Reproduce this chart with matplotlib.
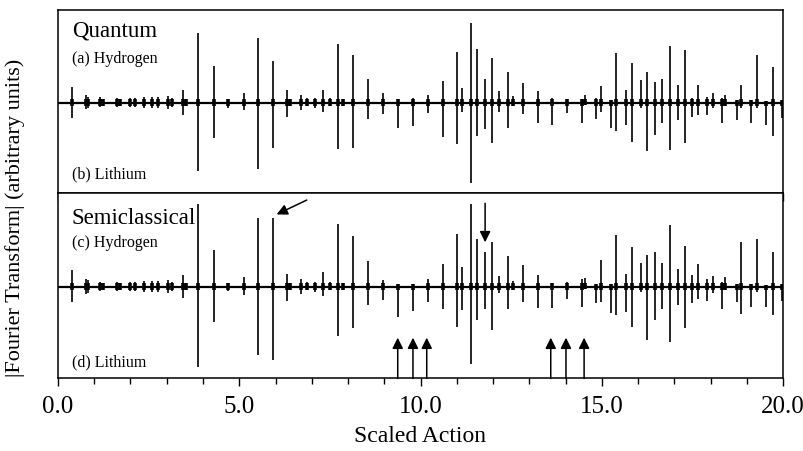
import numpy as np
import matplotlib
matplotlib.use('Agg')
import matplotlib.pyplot as plt
from matplotlib.ticker import MultipleLocator

plt.rcParams['font.family'] = ['Liberation Serif', 'DejaVu Serif']

# Posiciones de los picos (accion escalada)
actions = [0.38, 0.78, 0.83, 1.17, 1.23, 1.63, 1.71, 1.99, 2.12, 2.38,
           2.58, 2.77, 3.04, 3.14, 3.44, 3.52, 3.87, 4.30, 4.70, 5.13,
           5.53, 5.92, 6.31, 6.40, 6.70, 6.88, 7.09, 7.30, 7.50, 7.72,
           7.87, 8.15, 8.56, 8.97, 9.37, 9.80, 10.20, 10.61, 11.00, 11.14,
           11.39, 11.55, 11.78, 11.98, 12.17, 12.41, 12.56, 12.82, 13.23, 13.62,
           14.03, 14.45, 14.54, 14.84, 14.97, 15.25, 15.39, 15.67, 15.83, 16.08,
           16.24, 16.47, 16.67, 16.88, 17.10, 17.28, 17.48, 17.66, 17.90, 18.06,
           18.31, 18.40, 18.72, 18.83, 19.11, 19.27, 19.52, 19.72, 19.96]

# Quantum: (a) hidrogeno hacia arriba, (b) litio hacia abajo
quantum_h = [0.17, 0.08, 0.06, 0.06, 0.04, 0.05, 0.04, 0.05, 0.05, 0.06,
             0.06, 0.06, 0.07, 0.05, 0.14, 0.04, 0.75, 0.40, 0.04, 0.11,
             0.70, 0.45, 0.14, 0.04, 0.08, 0.05, 0.05, 0.14, 0.05, 0.63,
             0.04, 0.52, 0.26, 0.10, 0.04, 0.05, 0.08, 0.23, 0.55, 0.16,
             0.86, 0.58, 0.26, 0.48, 0.13, 0.33, 0.07, 0.21, 0.13, 0.05,
             0.04, 0.04, 0.08, 0.05, 0.18, 0.03, 0.54, 0.14, 0.43, 0.25,
             0.33, 0.22, 0.26, 0.61, 0.19, 0.57, 0.05, 0.19, 0.06, 0.10,
             0.05, 0.08, 0.03, 0.19, 0.03, 0.52, 0.02, 0.38, 0.03]
quantum_li = [0.16, 0.07, 0.06, 0.05, 0.04, 0.05, 0.04, 0.05, 0.05, 0.06,
              0.06, 0.06, 0.07, 0.05, 0.13, 0.04, 0.74, 0.38, 0.06, 0.08,
              0.71, 0.49, 0.15, 0.04, 0.08, 0.04, 0.06, 0.10, 0.04, 0.50,
              0.04, 0.49, 0.18, 0.12, 0.27, 0.25, 0.11, 0.37, 0.44, 0.10,
              0.87, 0.36, 0.28, 0.43, 0.10, 0.27, 0.04, 0.12, 0.22, 0.24,
              0.11, 0.22, 0.02, 0.18, 0.10, 0.27, 0.30, 0.24, 0.42, 0.06,
              0.52, 0.35, 0.22, 0.51, 0.19, 0.43, 0.15, 0.13, 0.13, 0.06,
              0.22, 0.04, 0.19, 0.06, 0.22, 0.06, 0.24, 0.36, 0.16]

# Semiclassical: (c) hidrogeno hacia arriba, (d) litio hacia abajo
semi_h = [0.18, 0.08, 0.07, 0.05, 0.04, 0.05, 0.04, 0.05, 0.05, 0.06,
          0.06, 0.06, 0.07, 0.05, 0.13, 0.04, 0.89, 0.40, 0.04, 0.10,
          0.74, 0.74, 0.14, 0.04, 0.08, 0.05, 0.05, 0.16, 0.05, 0.68,
          0.04, 0.55, 0.28, 0.07, 0.03, 0.03, 0.08, 0.24, 0.57, 0.21,
          0.89, 0.51, 0.38, 0.48, 0.12, 0.33, 0.06, 0.23, 0.13, 0.04,
          0.05, 0.08, 0.09, 0.03, 0.29, 0.03, 0.56, 0.14, 0.43, 0.26,
          0.34, 0.38, 0.26, 0.67, 0.19, 0.44, 0.13, 0.25, 0.08, 0.12,
          0.05, 0.10, 0.03, 0.48, 0.03, 0.52, 0.02, 0.38, 0.03]
semi_li = [0.16, 0.08, 0.07, 0.05, 0.04, 0.05, 0.04, 0.05, 0.05, 0.06,
           0.06, 0.06, 0.07, 0.05, 0.12, 0.04, 0.87, 0.38, 0.05, 0.09,
           0.74, 0.79, 0.15, 0.04, 0.08, 0.04, 0.06, 0.10, 0.04, 0.53,
           0.04, 0.45, 0.20, 0.14, 0.33, 0.26, 0.17, 0.24, 0.43, 0.25,
           0.83, 0.36, 0.24, 0.47, 0.07, 0.24, 0.04, 0.16, 0.23, 0.23,
           0.13, 0.22, 0.02, 0.18, 0.16, 0.28, 0.30, 0.27, 0.43, 0.06,
           0.57, 0.36, 0.24, 0.60, 0.20, 0.44, 0.18, 0.13, 0.15, 0.07,
           0.24, 0.04, 0.16, 0.29, 0.22, 0.06, 0.22, 0.31, 0.15]

# Flechas senalando picos en el panel semiclasico
up_arrows = [9.37, 9.79, 10.17, 13.59, 14.01, 14.51]
down_arrow = 11.78
diag_arrow = ((6.86, 0.935), (6.03, 0.78))

fig = plt.figure(figsize=(8.04, 4.51), dpi=100)
ax1 = fig.add_axes([0.0721, 0.5714, 0.902, 0.4064])
ax2 = fig.add_axes([0.0721, 0.1612, 0.902, 0.4102])


def draw_panel(ax, up, down, ylim):
	x = np.array(actions)
	up = np.array(up)
	down = np.array(down)
	ax.vlines(x, 0, up, color='black', lw=1.2)
	ax.vlines(x, -down, 0, color='black', lw=1.2)
	# pequeño engrosamiento de cada pico junto a la linea base
	ax.vlines(x, -np.minimum(down, 0.035), np.minimum(up, 0.035), color='black', lw=2.6)
	ax.axhline(0, color='black', lw=1.6)
	ax.set_xlim(0, 20)
	ax.set_ylim(*ylim)
	ax.set_yticks([])
	ax.xaxis.set_major_locator(MultipleLocator(5))
	ax.xaxis.set_minor_locator(MultipleLocator(1))
	ax.tick_params(axis='x', which='major', direction='out', length=5.5, width=1, pad=7, labelsize=18)
	ax.tick_params(axis='x', which='minor', direction='out', length=4, width=1)
	for s in ax.spines.values():
		s.set_linewidth(1.1)


draw_panel(ax1, quantum_h, quantum_li, (-0.977, 1.0))
draw_panel(ax2, semi_h, semi_li, (-0.988, 1.008))
ax1.tick_params(axis='x', which='both', labelbottom=False)
ax2.xaxis.set_major_formatter(plt.FuncFormatter(lambda v, p: f'{v:.1f}'))

ax1.text(0.019, 0.854, 'Quantum', transform=ax1.transAxes, fontsize=16.5, va='baseline')
ax1.text(0.019, 0.711, '(a) Hydrogen', transform=ax1.transAxes, fontsize=11.5, va='baseline')
ax1.text(0.019, 0.082, '(b) Lithium', transform=ax1.transAxes, fontsize=11.5, va='baseline')
ax2.text(0.019, 0.832, 'Semiclassical', transform=ax2.transAxes, fontsize=16.5, va='baseline')
ax2.text(0.019, 0.711, '(c) Hydrogen', transform=ax2.transAxes, fontsize=11.5, va='baseline')
ax2.text(0.019, 0.066, '(d) Lithium', transform=ax2.transAxes, fontsize=11.5, va='baseline')

arrow = dict(arrowstyle='-|>', color='black', lw=1.1, mutation_scale=16, shrinkA=0, shrinkB=0)
for s in up_arrows:
	ax2.annotate('', xy=(s, -0.55), xytext=(s, -0.99), arrowprops=arrow, annotation_clip=False)
ax2.annotate('', xy=(down_arrow, 0.48), xytext=(down_arrow, 0.90), arrowprops=arrow)
ax2.annotate('', xy=diag_arrow[1], xytext=diag_arrow[0], arrowprops=arrow)

fig.text(0.523, 0.033, 'Scaled Action', fontsize=17, ha='center', va='center')
fig.text(0.019, 0.517, '|Fourier Transform| (arbitrary units)', fontsize=16, rotation=90,
	ha='center', va='center')

plt.savefig('out.png', dpi=100)
